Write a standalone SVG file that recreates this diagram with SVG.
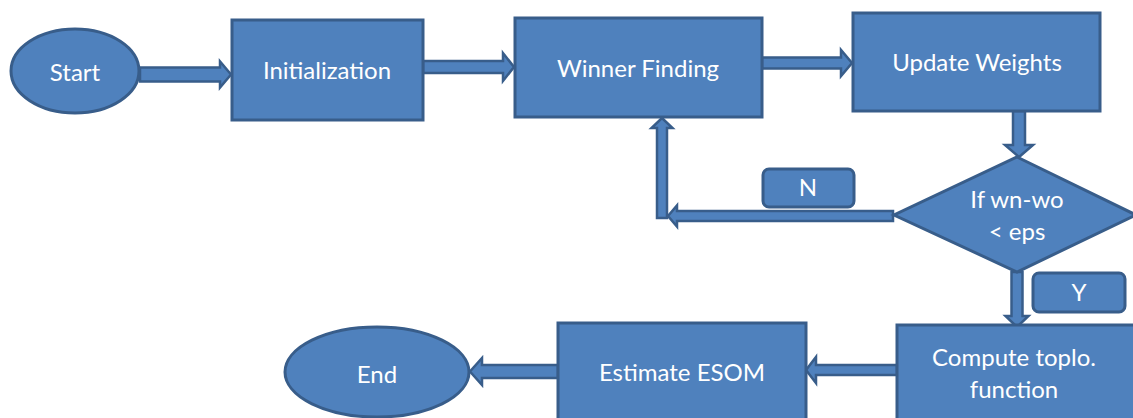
<svg xmlns="http://www.w3.org/2000/svg" width="1133" height="418" viewBox="0 0 1133 418">
<style>
.n{fill:#4F81BD;stroke:#385D8A;stroke-width:3}
.a{fill:#4F81BD;stroke:#385D8A;stroke-width:2.5;stroke-linejoin:miter}
.t{fill:#FFFFFF;font-family:Lato,"Open Sans","Liberation Sans",sans-serif;font-size:24px;text-anchor:middle;dominant-baseline:central}
</style>
<rect width="1133" height="418" fill="#FFFFFF"/>
<g id="connectors">
<polygon class="a" points="140,67.5 220,67.5 220,61.5 231,74.5 220,87.5 220,81.5 140,81.5"/>
<polygon class="a" points="423,61 503,61 503,53 514,67 503,81 503,73 423,73"/>
<polygon class="a" points="762,57.5 841,57.5 841,50 852,63 841,76 841,68.5 762,68.5"/>
<polygon class="a" points="1013,111 1013,145 1005,145 1019,157 1033,145 1025,145 1025,111"/>
<polygon class="a" points="893,211 677,211 677,205.5 668,216 677,226.5 677,221 893,221"/>
<polygon class="a" points="657,218 657,128 651.5,128 662,118 672.5,128 667,128 667,218"/>
<polygon class="a" points="1011.5,272 1011.5,316 1005.5,316 1017,327 1028.5,316 1022.5,316 1022.5,272"/>
<polygon class="a" points="897,365 816,365 816,357 806,370 816,383 816,375 897,375"/>
<polygon class="a" points="558,365 482,365 482,358 470,371.5 482,385 482,378 558,378"/>
</g>
<g id="start"><ellipse class="n" cx="75" cy="71" rx="64" ry="42"/><text class="t" x="75" y="71">Start</text></g>
<g id="init"><rect class="n" x="232" y="20" width="191" height="100"/><text class="t" x="327" y="69">Initialization</text></g>
<g id="winner"><rect class="n" x="515" y="18" width="247" height="99"/><text class="t" x="638" y="67">Winner Finding</text></g>
<g id="update"><rect class="n" x="853" y="13" width="247" height="98"/><text class="t" x="977" y="61">Update Weights</text></g>
<g id="decision"><polygon class="n" points="1017,157 1136,215 1017,272 894,215"/><text class="t" x="1017" y="198">If wn-wo</text><text class="t" x="1017" y="230">&lt; eps</text></g>
<g id="labelN"><rect class="n" x="763" y="169" width="91" height="38" rx="6"/><text class="t" x="808" y="186">N</text></g>
<g id="labelY"><rect class="n" x="1033" y="273" width="92" height="39" rx="6"/><text class="t" x="1079" y="291">Y</text></g>
<g id="compute"><rect class="n" x="897" y="325" width="245" height="100"/><text class="t" x="1014" y="356">Compute toplo.</text><text class="t" x="1014" y="388">function</text></g>
<g id="estimate"><rect class="n" x="558" y="323" width="248" height="102"/><text class="t" x="682" y="371">Estimate ESOM</text></g>
<g id="end"><ellipse class="n" cx="377" cy="372" rx="92" ry="45"/><text class="t" x="377" y="373">End</text></g>
</svg>
